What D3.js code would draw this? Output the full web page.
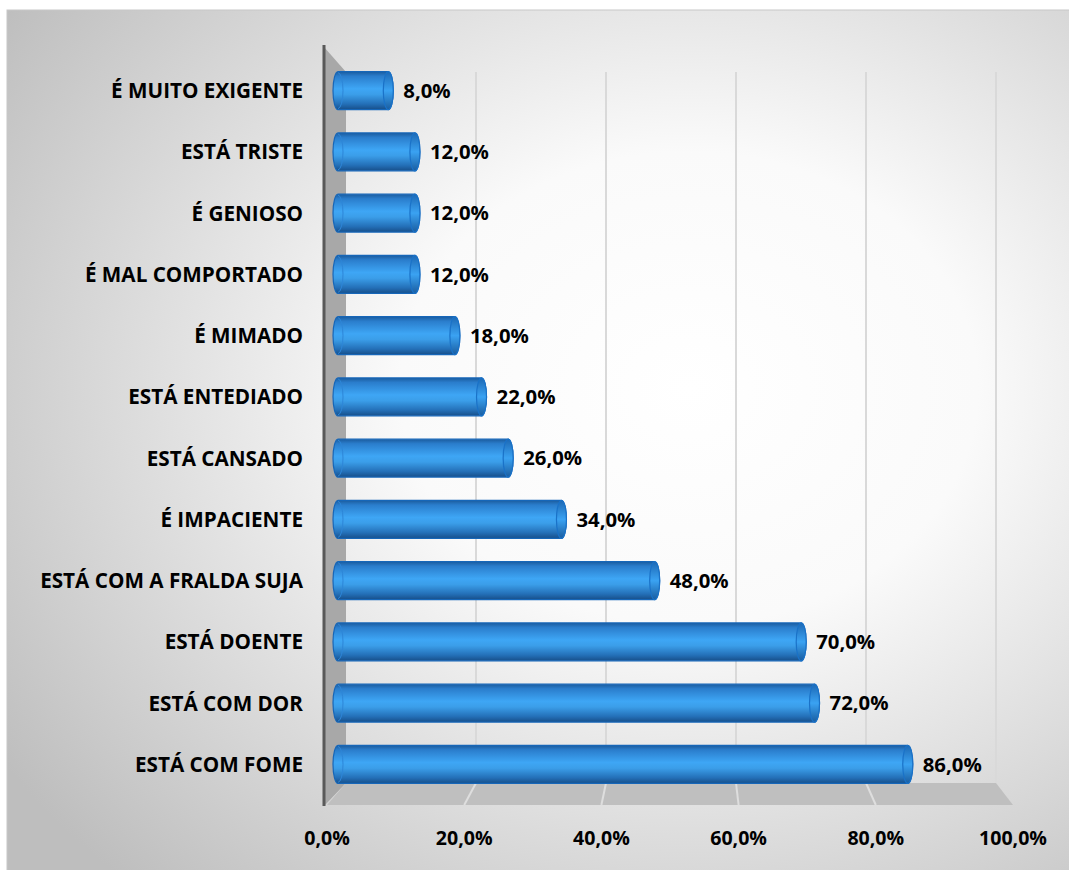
<!DOCTYPE html>
<html><head><meta charset="utf-8">
<script src="https://cdn.jsdelivr.net/npm/d3@7"></script>
<style>body{margin:0;background:#fff;}svg{display:block;}</style>
</head><body><svg id="c" width="1069" height="870"></svg>
<script>
const categories = ["É MUITO EXIGENTE","ESTÁ TRISTE","É GENIOSO","É MAL COMPORTADO","É MIMADO","ESTÁ ENTEDIADO","ESTÁ CANSADO","É IMPACIENTE","ESTÁ COM A FRALDA SUJA","ESTÁ DOENTE","ESTÁ COM DOR","ESTÁ COM FOME"];
const values = [0.08,0.12,0.12,0.12,0.18,0.22,0.26,0.34,0.48,0.70,0.72,0.86];
const ticks = [0,0.2,0.4,0.6,0.8,1.0];
const fmt = v => d3.format(".1%")(v).replace(".", ",");
const FONT = "'Open Sans', Lato, sans-serif";

const svg = d3.select("#c");
const defs = svg.append("defs");
const bg = defs.append("radialGradient").attr("id","bg").attr("cx","0.62").attr("cy","0.42").attr("r","0.75");
bg.append("stop").attr("offset","0").attr("stop-color","#ffffff");
bg.append("stop").attr("offset","0.35").attr("stop-color","#fafafa");
bg.append("stop").attr("offset","1").attr("stop-color","#bebebe");
const bar = defs.append("linearGradient").attr("id","bar").attr("x1",0).attr("y1",0).attr("x2",0).attr("y2",1);
[["0","#1b5c9e"],["0.12","#2a7dcc"],["0.45","#3ea6f5"],["0.6","#3b9ee9"],["0.85","#2470b8"],["1","#174f8a"]].forEach(([o,c])=>bar.append("stop").attr("offset",o).attr("stop-color",c));
const cap = defs.append("linearGradient").attr("id","cap").attr("x1",0).attr("y1",0).attr("x2",0).attr("y2",1);
[["0","#1d68b4"],["0.5","#3aa2f2"],["1","#1a5da0"]].forEach(([o,c])=>cap.append("stop").attr("offset",o).attr("stop-color",c));

svg.append("rect").attr("x",7).attr("y",10).attr("width",1100).attr("height",900).attr("fill","url(#bg)").attr("stroke","#c8c8c8").attr("stroke-width",1);

function fitSize(sample, width){
  const t = svg.append("text").attr("font-family",FONT).attr("font-weight","bold").attr("font-size",20).text(sample);
  const w = t.node().getComputedTextLength(); t.remove();
  return 20*width/w;
}
const catSize = fitSize("ESTÁ COM A FRALDA SUJA", 263);
const valSize = fitSize("48,0%", 59);
const tickSize = fitSize("100,0%", 68);

// 3D geometry
const backX = d3.scaleLinear().domain([0,1]).range([346,996]);
const frontX = d3.scaleLinear().domain([0,1]).range([327,1013]);
const barX = d3.scaleLinear().domain([0,1]).range([340,1006]);
const barStart = 333;
const y = d3.scaleBand().domain(categories).range([60,795]).paddingInner(0.38).paddingOuter(0.19);
const backTop = 72, backBottom = 783, frontBottom = 805, frontTop = 47;

svg.append("path").attr("d",`M324,${frontTop} L346,${backTop} L346,${backBottom} L325,${frontBottom} Z`).attr("fill","#a8a8a8");
svg.append("path").attr("d",`M${backX(0)},${backBottom} L${backX(1)},${backBottom} L${frontX(1)},${frontBottom} L${frontX(0)},${frontBottom} Z`).attr("fill","#bfbfbf");
svg.selectAll("line.g").data(ticks.slice(1)).join("line").attr("class","g")
  .attr("x1",d=>backX(d)).attr("x2",d=>backX(d)).attr("y1",backTop).attr("y2",backBottom)
  .attr("stroke","#d9d9d9").attr("stroke-width",2);
svg.selectAll("line.f").data(ticks.slice(1,-1)).join("line").attr("class","f")
  .attr("x1",d=>backX(d)).attr("x2",d=>frontX(d)).attr("y1",backBottom).attr("y2",frontBottom)
  .attr("stroke","#dedede").attr("stroke-width",2);
svg.append("line").attr("x1",324).attr("x2",324).attr("y1",45).attr("y2",806).attr("stroke","#595959").attr("stroke-width",3);

const rx = 5;
const g = svg.append("g");
categories.forEach((c,i)=>{
  const v = values[i], y0 = y(c), h = y.bandwidth(), x0 = barStart, x1 = barX(v);
  g.append("path").attr("d",`M${x0+rx},${y0} L${x1-rx},${y0} A${rx},${h/2} 0 0 1 ${x1-rx},${y0+h} L${x0+rx},${y0+h} A${rx},${h/2} 0 0 1 ${x0+rx},${y0} Z`)
    .attr("fill","url(#bar)").attr("stroke","#1666b8").attr("stroke-width",1.2);
  g.append("ellipse").attr("cx",x1-rx).attr("cy",y0+h/2).attr("rx",rx).attr("ry",h/2)
    .attr("fill","url(#cap)").attr("stroke","#1a72c8").attr("stroke-width",1.2);
  g.append("path").attr("d",`M${x0+rx},${y0+1} A${rx},${h/2-1} 0 0 1 ${x0+rx},${y0+h-1}`).attr("fill","none").attr("stroke","#2d86d8").attr("stroke-width",1);
  g.append("text").attr("x",x1+10).attr("y",y0+h/2).attr("dy","0.36em")
    .attr("font-family",FONT).attr("font-weight","bold").attr("font-size",valSize).attr("fill","#000").text(fmt(v));
});

svg.selectAll("text.cat").data(categories).join("text").attr("class","cat")
  .attr("x",303).attr("y",d=>y(d)+y.bandwidth()/2).attr("dy","0.36em").attr("text-anchor","end")
  .attr("font-family",FONT).attr("font-weight","bold").attr("font-size",catSize).attr("fill","#000").text(d=>d);

svg.selectAll("text.t").data(ticks).join("text").attr("class","t")
  .attr("x",d=>frontX(d)).attr("y",838).attr("dy","0.36em").attr("text-anchor","middle")
  .attr("font-family",FONT).attr("font-weight","bold").attr("font-size",tickSize).attr("fill","#000").text(d=>fmt(d));
</script></body></html>
